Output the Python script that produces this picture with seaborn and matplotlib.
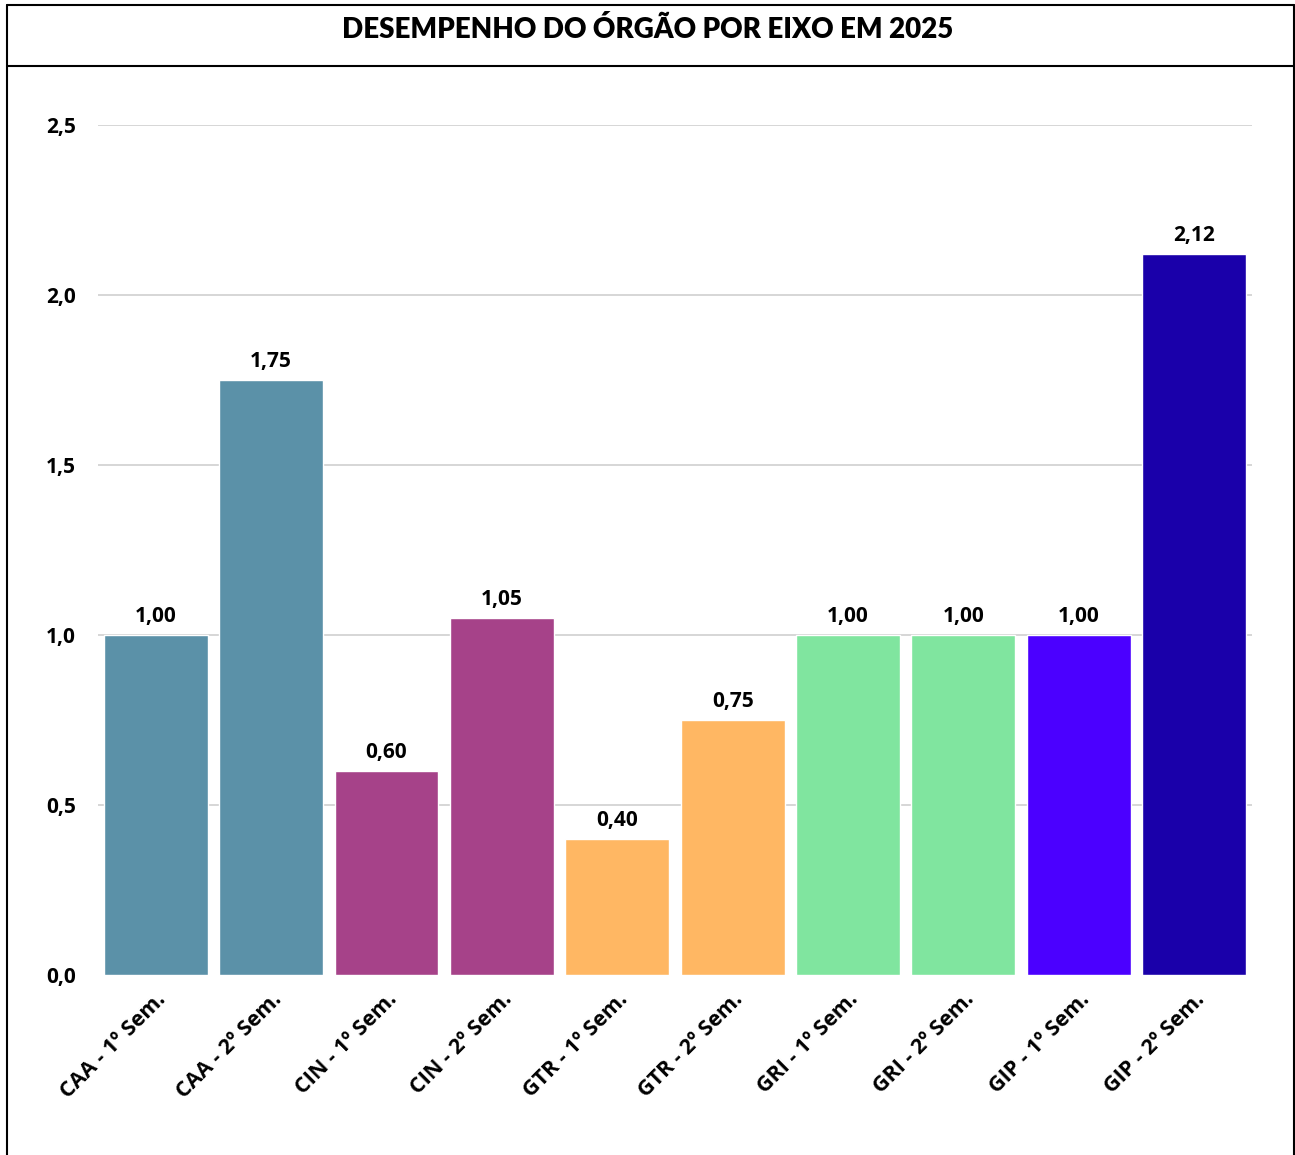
import numpy as np
import pandas as pd
import seaborn as sns
import matplotlib.pyplot as plt
from matplotlib.lines import Line2D

categorias = ['CAA - 1º Sem.', 'CAA - 2º Sem.', 'CIN - 1º Sem.', 'CIN - 2º Sem.',
              'GTR - 1º Sem.', 'GTR - 2º Sem.', 'GRI - 1º Sem.', 'GRI - 2º Sem.',
              'GIP - 1º Sem.', 'GIP - 2º Sem.']
valores = [1.00, 1.75, 0.60, 1.05, 0.40, 0.75, 1.00, 1.00, 1.00, 2.12]
cores = ['#5B91A8', '#5B91A8', '#A64289', '#A64289', '#FFB763', '#FFB763',
         '#80E59F', '#80E59F', '#4B00FF', '#1A00AA']
y_ticks = [0.0, 0.5, 1.0, 1.5, 2.0, 2.5]

df = pd.DataFrame({'eixo': categorias, 'valor': valores})

sns.set_style('white')
plt.rcParams['font.family'] = ['Open Sans', 'DejaVu Sans']
plt.rcParams['text.color'] = 'black'
plt.rcParams['xtick.color'] = 'black'
plt.rcParams['ytick.color'] = 'black'

fig = plt.figure(figsize=(12.95, 11.55), dpi=100)
ax = fig.add_axes([0.0757, 0.1558, 0.891, 0.7359])

sns.barplot(data=df, x='eixo', y='valor', hue='eixo', palette=cores,
            legend=False, width=0.9, saturation=1, ax=ax)

ax.set_ylim(0, 2.5)
ax.set_xlim(-0.5, len(categorias) - 0.5)
ax.set_yticks(y_ticks)
ax.set_yticklabels([f'{v:.1f}'.replace('.', ',') for v in y_ticks],
                   fontsize=15, fontweight='bold')
for y in y_ticks[1:]:
    ax.axhline(y, color='#cfcfcf', lw=1.2, zorder=0)
ax.set_axisbelow(True)

ax.set_xticks(range(len(categorias)))
ax.set_xticklabels(categorias, rotation=45, ha='right', rotation_mode='anchor',
                   fontsize=15.5, fontweight='bold')
ax.tick_params(axis='x', length=0, pad=10)
ax.tick_params(axis='y', length=0, pad=16)
ax.set_xlabel('')
ax.set_ylabel('')
for s in ax.spines.values():
    s.set_visible(False)

for i, v in enumerate(valores):
    ax.text(i, v + 0.025, f'{v:.2f}'.replace('.', ','), ha='center', va='bottom',
            fontsize=15, fontweight='bold', color='black')

# moldura e titulo
fig.add_artist(Line2D([7 / 1295, 7 / 1295], [0, 1 - 5 / 1155], color='black', lw=1.5))
fig.add_artist(Line2D([1294 / 1295, 1294 / 1295], [0, 1 - 5 / 1155], color='black', lw=1.5))
fig.add_artist(Line2D([7 / 1295, 1294 / 1295], [1 - 5 / 1155, 1 - 5 / 1155], color='black', lw=1.5))
fig.add_artist(Line2D([7 / 1295, 1294 / 1295], [1 - 66 / 1155, 1 - 66 / 1155], color='black', lw=1.5))
fig.text(0.5, 1 - 29 / 1155, 'DESEMPENHO DO ÓRGÃO POR EIXO EM 2025', ha='center', va='center',
         fontsize=20, fontweight='heavy', color='black', family=['Lato', 'DejaVu Sans'])

fig.savefig('out.png', dpi=100)
